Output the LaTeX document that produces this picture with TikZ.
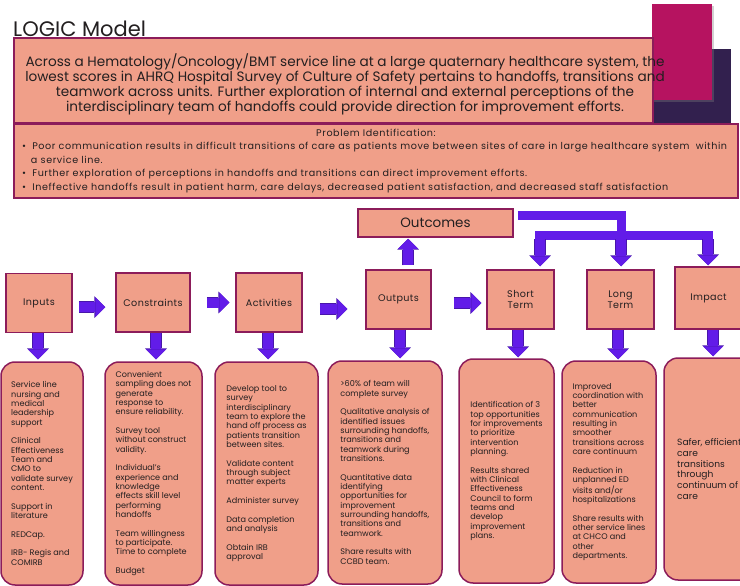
\documentclass[tikz,border=0pt]{standalone}
\usepackage{fontspec}
\setmainfont{Poppins}
\usepackage{xcolor}
\usepackage{tikz}
\usetikzlibrary{arrows.meta,calc,positioning,shadows}
\definecolor{salmon}{RGB}{240,159,137}
\definecolor{boxline}{RGB}{140,28,90}
\definecolor{flowarrow}{RGB}{98,28,232}
\definecolor{flowedge}{RGB}{72,22,170}
\definecolor{berry}{RGB}{182,19,96}
\definecolor{plum}{RGB}{50,32,78}
\definecolor{ink}{RGB}{35,31,32}
\tikzset{
  panel/.style={draw=boxline, fill=salmon, line width=1.1pt, inner sep=0pt, text=ink},
  stage/.style={panel, line width=1.5pt, minimum height=59pt, align=center, font=\fontsize{9.6}{11.5}\selectfont\addfontfeature{LetterSpace=4}},
  notes/.style={panel, line width=1.5pt, rounded corners=14pt, minimum height=223pt, align=left, font=\fontsize{8.1}{9.33}\selectfont},
  flow/.style={line width=10pt, flowarrow, -{Triangle[length=10pt, width=20pt, line width=0pt]},
    preaction={draw=flowedge, line width=11.2pt, -{Triangle[length=10.8pt, width=21.6pt, line width=0pt]}}},
  bar/.style={line width=9pt, flowarrow},
}
\newcommand{\gap}{\\[9.33pt]}

\begin{document}
\begin{tikzpicture}[x=1pt, y=-1pt]
	\useasboundingbox (0,0) rectangle (740,586);
	\clip (0,0) rectangle (740,586);
	\fill[white] (0,0) rectangle (740,586);
	
	\node[anchor=base west, inner sep=0pt, text=ink, font=\fontsize{21}{24}\selectfont] (title) at (13,37) {LOGIC Model};
	
	\fill[plum] (652,49) rectangle (731,126);
	\fill[berry, drop shadow={opacity=0.35, shadow xshift=2pt, shadow yshift=-2pt}] (652,4) rectangle (712,100);
	
	\node[panel, minimum width=639pt, minimum height=85pt] (purpose) at (333.5,80.5) {};
	\node[text=ink, align=center, font=\fontsize{13.6}{15}\selectfont] (purposetext) at (345,84) {Across a Hematology/Oncology/BMT service line at a large quaternary healthcare system, the\\
		lowest scores in AHRQ Hospital Survey of Culture of Safety pertains to handoffs, transitions and\\
		teamwork across units. Further exploration of internal and external perceptions of the\\
		interdisciplinary team of handoffs could provide direction for improvement efforts.};
	
	\node[panel, minimum width=724pt, minimum height=74pt, text width=708pt, align=left, font=\fontsize{9.6}{13.5}\selectfont\addfontfeature{LetterSpace=6}] (problem) at (376,161) {\makebox[\hsize]{Problem Identification:}\\
		\textbullet\ \ Poor communication results in difficult transitions of care as patients move between sites of care in large healthcare system\ \ within\\
		\hspace*{9pt}a service line.\\
		\textbullet\ \ Further exploration of perceptions in handoffs and transitions can direct improvement efforts.\\
		\textbullet\ \ Ineffective handoffs result in patient harm, care delays, decreased patient satisfaction, and decreased staff satisfaction};
	
	% top row
	\node[stage, minimum width=66pt] (inputs) at (39,303) {Inputs};
	\node[stage, minimum width=74pt] (constraints) at (153,302.5) {Constraints};
	\node[stage, minimum width=66pt] (activities) at (269,302.5) {Activities};
	\node[stage, minimum width=65pt] (outputs) at (398.5,299.5) {Outputs};
	\node[stage, minimum width=67pt] (shortterm) at (520.5,299.5) {Short\\Term};
	\node[stage, minimum width=67pt] (longterm) at (620.5,299.5) {Long\\Term};
	\node[stage, minimum width=67pt, minimum height=62pt] (impact) at (708.5,298) {Impact};
	\node[panel, line width=1.5pt, minimum width=155pt, minimum height=28pt, font=\fontsize{13.5}{16}\selectfont] (outcomes) at (435.5,223) {Outcomes};
	
	\draw[flow, shorten <=6pt, shorten >=10pt] ([yshift=-4pt]inputs.east) -- ([yshift=-4pt]inputs.east -| constraints.west);
	\draw[flow, shorten <=16pt, shorten >=6pt] (constraints.east) -- (constraints.east -| activities.west);
	\draw[flow, shorten <=17pt, shorten >=18pt] ([yshift=-6.5pt]activities.east) -- ([yshift=-6.5pt]activities.east -| outputs.west);
	\draw[flow, shorten <=22pt, shorten >=5pt] ([yshift=-3.5pt]outputs.east) -- ([yshift=-3.5pt]outputs.east -| shortterm.west);
	
	\coordinate (rise) at ($(outputs.north)+(9.5,-4)$);
	\draw[flow, shorten >=1pt] (rise) -- (rise |- outcomes.south);
	
	% outcomes fork
	\coordinate (fork) at (621,235);
	\coordinate (forkL) at (535,235);
	\coordinate (forkR) at (713,235);
	\draw[bar] ($(outcomes.east)+(4,-8)$) -| (fork);
	\draw[bar] (forkL) -- (forkR);
	\coordinate (drop1) at (540,239);
	\coordinate (drop2) at (621,239);
	\coordinate (drop3) at (708,239);
	\draw[flow, shorten >=3pt] (drop1) -- (drop1 |- shortterm.north);
	\draw[flow, shorten >=3pt] (drop2) -- (drop2 |- longterm.north);
	\draw[flow, shorten >=1pt] (drop3) -- (drop3 |- impact.north);
	
	% bottom row
	\node[notes, minimum width=82pt] (inputsnotes) at (42,473.5) {Service line\\nursing and\\medical\\leadership\\support\gap
		Clinical\\Effectiveness\\Team and\\CMO to\\validate survey\\content.\gap
		Support in\\literature\gap
		REDCap.\gap
		IRB- Regis and\\COMIRB};
	\node[notes, minimum width=97pt] (constraintsnotes) at (153.5,473.5) {Convenient\\sampling does not\\generate\\response to\\ensure reliability.\gap
		Survey tool\\without construct\\validity.\gap
		Individual's\\experience and\\knowledge\\effects skill level\\performing\\handoffs\gap
		Team willingness\\to participate.\\Time to complete\gap
		Budget};
	\node[notes, minimum width=103pt] (activitiesnotes) at (266.5,473.5) {Develop tool to\\survey\\interdisciplinary\\team to explore the\\hand off process as\\patients transition\\between sites.\gap
		Validate content\\through subject\\matter experts\gap
		Administer survey\gap
		Data completion\\and analysis\gap
		Obtain IRB\\approval};
	\node[notes, minimum width=114pt] (outputsnotes) at (385,472.5) {>60\% of team will\\complete survey\gap
		Qualitative analysis of\\identified issues\\surrounding handoffs,\\transitions and\\teamwork during\\transitions.\gap
		Quantitative data\\identifying\\opportunities for\\improvement\\surrounding handoffs,\\transitions and\\teamwork.\gap
		Share results with\\CCBD team.};
	\node[notes, minimum width=95pt, minimum height=224pt] (shortnotes) at (506.5,471) {Identification of 3\\top opportunities\\for improvements\\to prioritize\\intervention\\planning.\gap
		Results shared\\with Clinical\\Effectiveness\\Council to form\\teams and\\develop\\improvement\\plans.};
	\node[notes, minimum width=94pt, minimum height=222pt] (longnotes) at (609,472) {Improved\\coordination with\\better\\communication\\resulting in\\smoother\\transitions across\\care continuum\gap
		Reduction in\\unplanned ED\\visits and/or\\hospitalizations\gap
		Share results with\\other service lines\\at CHCO and\\other\\departments.};
	\node[notes, minimum width=108pt, minimum height=222pt] (impactnotes) at (718,469) {};
	\node[anchor=west, inner sep=0pt, align=left, text=ink, font=\fontsize{9.1}{10.7}\selectfont] (impacttext) at (677,469) {Safer, efficient\\care\\transitions\\through\\continuum of\\care};
	
	\draw[flow, shorten >=2pt] ([xshift=-1pt]inputs.south) -- ([xshift=-1pt]inputs.south |- inputsnotes.north);
	\draw[flow, shorten >=2pt] ([xshift=3pt]constraints.south) -- ([xshift=3pt]constraints.south |- constraintsnotes.north);
	\draw[flow, shorten >=2pt] ([xshift=-1pt]activities.south) -- ([xshift=-1pt]activities.south |- activitiesnotes.north);
	\draw[flow, shorten >=2pt] ([xshift=1.5pt]outputs.south) -- ([xshift=1.5pt]outputs.south |- outputsnotes.north);
	\draw[flow, shorten >=1pt] ([xshift=-2.5pt]shortterm.south) -- ([xshift=-2.5pt]shortterm.south |- shortnotes.north);
	\draw[flow, shorten >=1pt] ([xshift=-2.5pt]longterm.south) -- ([xshift=-2.5pt]longterm.south |- longnotes.north);
	\draw[flow, shorten >=1pt] ([xshift=4.5pt]impact.south) -- ([xshift=4.5pt]impact.south |- impactnotes.north);
\end{tikzpicture}
\end{document}
